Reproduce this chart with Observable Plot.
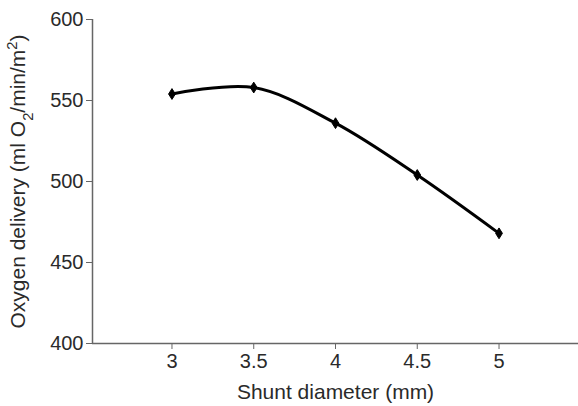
<!DOCTYPE html>
<html>
<head>
<meta charset="utf-8">
<script src="https://cdn.jsdelivr.net/npm/d3@7"></script>
<script src="https://cdn.jsdelivr.net/npm/@observablehq/plot@0.6"></script>
<style>
  html, body { margin: 0; padding: 0; background: #fff; }
  #chart svg { display: block; }
</style>
</head>
<body>
<div id="chart"></div>
<script>
const shuntDiameter = [3, 3.5, 4, 4.5, 5];
const oxygenDelivery = [554, 558, 536, 504, 468];
const xTicks = [3, 3.5, 4, 4.5, 5];
const yTicks = [400, 450, 500, 550, 600];

const data = shuntDiameter.map((d, i) => ({x: d, y: oxygenDelivery[i]}));

const tallDiamond = {
  draw(context, size) {
    const r = Math.sqrt(size / Math.PI);
    context.moveTo(0, -1.35 * r);
    context.lineTo(0.85 * r, 0);
    context.lineTo(0, 1.35 * r);
    context.lineTo(-0.85 * r, 0);
    context.closePath();
  }
};

const axisColor = "#666";
const textColor = "#2a2a2a";

const chart = Plot.plot({
  width: 578,
  height: 406,
  marginLeft: 92,
  marginRight: 0,
  marginTop: 19,
  marginBottom: 63,
  style: {fontFamily: "'Liberation Sans', Arial, sans-serif", fontSize: "20px", color: textColor, background: "#fff"},
  x: {domain: [2.514, 5.486]},
  y: {domain: [400, 600]},
  marks: [
    Plot.axisY({ticks: yTicks, tickSize: 6, tickPadding: 3, stroke: axisColor, label: "Oxygen delivery (ml O2/min/m2)", labelAnchor: "center", labelArrow: "none", labelOffset: 82, fill: textColor}),
    Plot.axisX({ticks: xTicks, tickFormat: d => String(d), tickSize: 6, tickPadding: 4, stroke: axisColor, label: "Shunt diameter (mm)", labelAnchor: "center", labelArrow: "none", labelOffset: 55, fill: textColor}),
    Plot.ruleX([2.514], {y1: 400, y2: 600, stroke: axisColor, strokeWidth: 1.5}),
    Plot.ruleY([400], {stroke: axisColor, strokeWidth: 1.5}),
    Plot.line(data, {x: "x", y: "y", curve: "catmull-rom", stroke: "#000", strokeWidth: 3}),
    Plot.dot(data, {x: "x", y: "y", symbol: tallDiamond, r: 4, fill: "#000", stroke: "#000", strokeWidth: 1})
  ]
});

// subscript / superscript in y label
d3.select(chart).selectAll("text").each(function() {
  const t = this.textContent;
  if (t.startsWith("Oxygen")) {
    const el = d3.select(this);
    el.selectAll("*").remove();
    el.text(null);
    el.append("tspan").text("Oxygen delivery (ml O");
    el.append("tspan").attr("baseline-shift", "sub").attr("font-size", "70%").text("2");
    el.append("tspan").text("/min/m");
    el.append("tspan").attr("baseline-shift", "super").attr("font-size", "70%").text("2");
    el.append("tspan").text(")");
    el.style("font-size", "21px");
  } else if (t.startsWith("Shunt")) {
    d3.select(this).style("font-size", "21px");
  }
});

document.getElementById("chart").appendChild(chart);
</script>
</body>
</html>
